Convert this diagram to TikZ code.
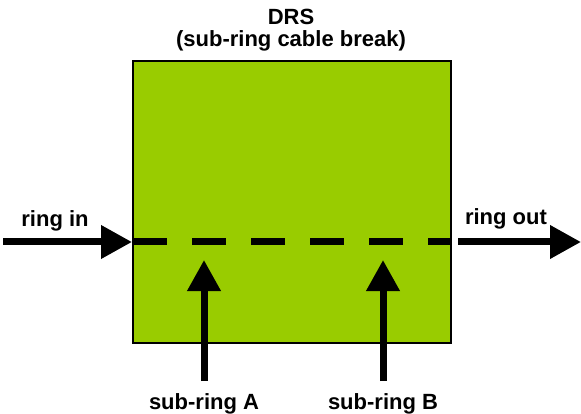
\documentclass[tikz,border=0pt]{standalone}
\usepackage{fontspec}
\setmainfont{Liberation Sans}
\usetikzlibrary{arrows.meta,positioning}
\definecolor{drsgreen}{RGB}{153,204,0}
\tikzset{
  lbl/.style={font=\bfseries\fontsize{22}{26}\selectfont, inner sep=0pt, anchor=base},
  bigarrow/.style={line width=7pt, -{Triangle[length=31pt,width=32pt]}},
  ringline/.style={line width=7pt, dash pattern=on 34pt off 25pt}
}
\begin{document}
\begin{tikzpicture}[x=1pt,y=-1pt]
		\useasboundingbox (0,0) rectangle (581,414);
		
		%Shape: Rectangle [id:drs]
		\node [draw, line width=1.5pt, fill=drsgreen, minimum width=318pt, minimum height=282pt, inner sep=0pt] (drs) at (292,202) {};
		
		% Text Node
		\node [lbl] (title) at (291,25) {DRS};
		% Text Node
		\node [lbl] (subtitle) at (291,47) {(sub-ring cable break)};
		
		%Coordinates of the ring
		\coordinate (inStart) at (3,242);
		\coordinate (inEnd) at (132,242);
		\coordinate (breakL) at (133,242);
		\coordinate (breakR) at (451,242);
		\coordinate (outStart) at (458,242);
		\coordinate (outEnd) at (581,242);
		\coordinate (aStart) at (204,381);
		\coordinate (aEnd) at (204,260);
		\coordinate (bStart) at (383,381);
		\coordinate (bEnd) at (383,260);
		
		%Straight Lines [id:ring]
		\draw [ringline] (breakL) -- (breakR);
		%Straight Lines [id:ringIn]
		\draw [bigarrow] (inStart) -- (inEnd);
		%Straight Lines [id:ringOut]
		\draw [bigarrow] (outStart) -- (outEnd);
		%Straight Lines [id:subA]
		\draw [bigarrow] (aStart) -- (aEnd);
		%Straight Lines [id:subB]
		\draw [bigarrow] (bStart) -- (bEnd);
		
		% Text Node
		\node [lbl] (ringin) at (55,226) {ring in};
		% Text Node
		\node [lbl] (ringout) at (506,225) {ring out};
		% Text Node
		\node [lbl] (labA) at (204,409) {sub-ring A};
		% Text Node
		\node [lbl] (labB) at (383,409) {sub-ring B};
		
\end{tikzpicture}
\end{document}
